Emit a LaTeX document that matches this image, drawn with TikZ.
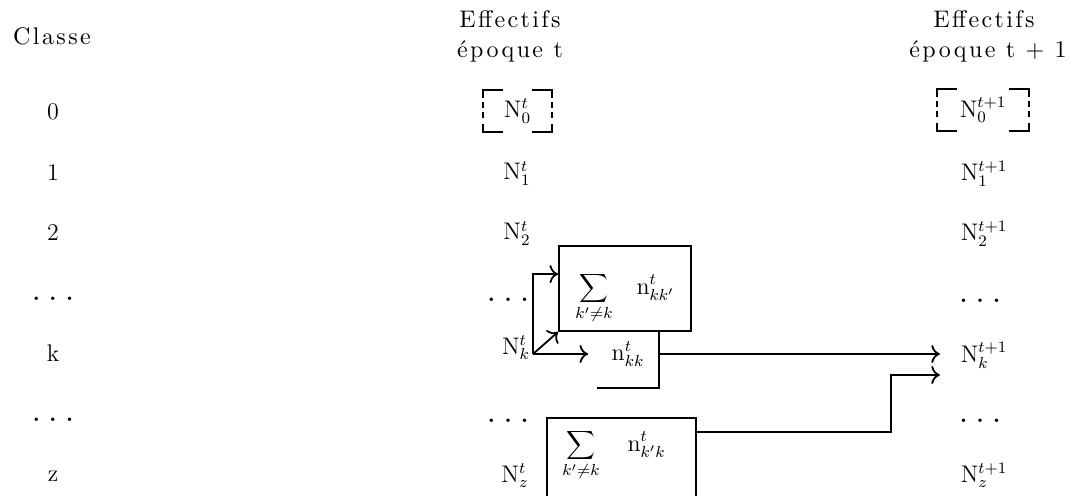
\documentclass[tikz,border=0pt]{standalone}
\usepackage{fontspec}
\usetikzlibrary{arrows.meta}
\newfontfamily\entetefont{lmroman10-regular.otf}[LetterSpace=10]
\newcommand{\pts}{\textbf{.\hspace{4.5pt}.\hspace{4.5pt}.}}
\newcommand{\crochets}[1]{%
	\draw ([yshift=-4pt]#1.north west) -- (#1.north west) -- ([xshift=10pt]#1.north west);
	\draw ([yshift=-4pt]#1.north east) -- (#1.north east) -- ([xshift=-10pt]#1.north east);
	\draw ([yshift=4pt]#1.south west) -- (#1.south west) -- ([xshift=10pt]#1.south west);
	\draw ([yshift=4pt]#1.south east) -- (#1.south east) -- ([xshift=-10pt]#1.south east);
	\draw [dash pattern=on 3pt off 2pt] ([yshift=-6pt]#1.north west) -- ([yshift=6pt]#1.south west);
	\draw [dash pattern=on 3pt off 2pt] ([yshift=-6pt]#1.north east) -- ([yshift=6pt]#1.south east);}

\begin{document}
\begin{tikzpicture}[x=0.5pt,y=-0.5pt, >={To[scale=1.2]}, line width=0.9pt,
	font=\fontsize{12}{14.4}\selectfont,
	texte/.style={inner sep=0pt, anchor=base},
	entete/.style={texte, font=\fontsize{12}{14.4}\entetefont},
	boite/.style={draw, inner sep=0pt},
	cadre/.style={inner sep=0pt, minimum width=33.5pt, minimum height=20pt}]
	\useasboundingbox (0,0) rectangle (1074,496);
	\clip (0,0) rectangle (1074,496);

	\node[entete] (classe) at (52,45) {Classe};
	\node[entete] (eff1) at (510,28) {Effectifs};
	\node[entete] (ep1) at (510,58) {époque t};
	\node[entete] (eff2) at (984,28) {Effectifs};
	\node[entete] (ep2) at (988,58) {époque t + 1};

	\foreach \lab [count=\i from 0] in {0,1,2,\pts,k,\pts,z}
		\node[texte] (c\i) at (53,120+60.33*\i) {\lab};

	\node[cadre] (N0) at (517.5,111) {$\mathrm{N}^{t}_{0}$};
	\node[texte] (N1) at (517,180) {$\mathrm{N}^{t}_{1}$};
	\node[texte] (N2) at (517,240) {$\mathrm{N}^{t}_{2}$};
	\node[texte] (Npa) at (508,301) {\pts};
	\node[texte] (Nk) at (516,354) {$\mathrm{N}^{t}_{k}$};
	\node[texte] (Npb) at (508,422) {\pts};
	\node[texte] (Nz) at (515,482) {$\mathrm{N}^{t}_{z}$};
	\crochets{N0}

	\node[cadre, minimum width=45pt] (M0) at (983,110) {$\mathrm{N}^{t+1}_{0}$};
	\node[texte] (M1) at (984,181) {$\mathrm{N}^{t+1}_{1}$};
	\node[texte] (M2) at (984,241) {$\mathrm{N}^{t+1}_{2}$};
	\node[texte] (Mpa) at (980,302) {\pts};
	\node[texte] (Mk) at (984,362) {$\mathrm{N}^{t+1}_{k}$};
	\node[texte] (Mpb) at (980,422) {\pts};
	\node[texte] (Mz) at (984,482) {$\mathrm{N}^{t+1}_{z}$};
	\crochets{M0}

	\node[boite, minimum width=66pt, minimum height=42.5pt] (sumkk) at (625,288.5) {};
	\node[inner sep=0pt] (txtkk) at (625,298) {$\displaystyle\sum_{k'\neq k}\hspace{10pt}\mathrm{n}^{t}_{kk'}$};
	\node[inner sep=0pt, minimum width=30pt, minimum height=33pt] (nkk) at (628,354) {$\mathrm{n}^{t}_{kk}$};
	\draw (sumkk.south -| nkk.east) -- (nkk.south east) -- (nkk.south west);

	\node[boite, minimum width=74.5pt, minimum height=51pt] (sumkpk) at (621.5,469) {};
	\node[inner sep=0pt] (txtkpk) at (614,455) {$\displaystyle\sum_{k'\neq k}\hspace{12pt}\mathrm{n}^{t}_{k'k}$};

	\coordinate (dep) at (533,354);
	\draw[->] (dep) -- (sumkk.south west);
	\draw[->] (dep) |- ([yshift=-14.5pt]sumkk.north west);
	\draw[->] (dep) -- ([xshift=-4.5pt]nkk.west);

	\coordinate (cible) at ([xshift=-10pt]Mk.west);
	\draw[->] (nkk.east) -- (nkk.east -| cible);
	\path (nkk.east -| cible) ++(0,21) coordinate (cible2);
	\draw[->] ([yshift=-7.5pt]sumkpk.north east) -- ++(194,0) |- (cible2);
\end{tikzpicture}
\end{document}
